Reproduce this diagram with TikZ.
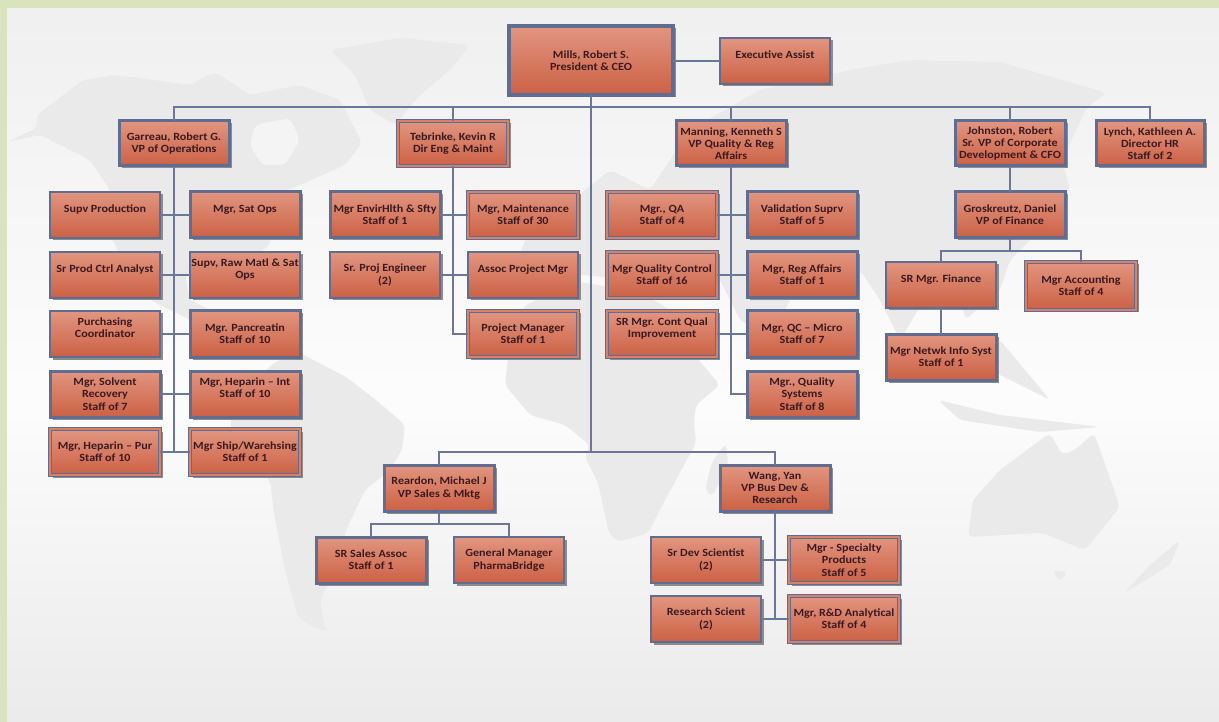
\documentclass[tikz,border=0pt]{standalone}
\usepackage{fontspec}
\setmainfont[FakeStretch=1.1]{Carlito}
\usetikzlibrary{shadows}
\definecolor{frame}{HTML}{5F6D92}
\definecolor{wire}{HTML}{6A7799}
\definecolor{landc}{HTML}{EAEAEA}
\definecolor{ink}{HTML}{3A1A20}
\definecolor{E1}{HTML}{E29580}
\definecolor{E2}{HTML}{CB6145}
\definecolor{E3}{HTML}{D98068}
\definecolor{pagegreen}{HTML}{D9E3BC}
\definecolor{bay}{HTML}{F4F4F4}
\tikzset{
  box/.style={inner sep=0pt,outer sep=0pt,align=center,text=ink,
    font=\fontsize{11}{12.3}\selectfont\bfseries,
    top color=E1,bottom color=E2,
    drop shadow={shadow xshift=2.5pt,shadow yshift=-2.5pt,fill=black!45,opacity=1}},
  thinbox/.style={box,draw=frame,line width=1.3pt},
  thickbox/.style={box,draw=frame,line width=3pt},
  ceobox/.style={box,draw=frame,line width=3.8pt},
  dblbox/.style={box,draw=frame,line width=1.2pt,double=E3,double distance=1.8pt},
  wirel/.style={draw=wire,line width=1.3pt},
  land/.style={fill=landc,draw=none,rounded corners=5pt}
}
\newcommand{\bx}[7]{%
  \pgfmathsetmacro{\cxv}{(#3+#5)/2}\pgfmathsetmacro{\cyv}{(#4+#6)/2}%
  \pgfmathsetmacro{\wv}{#5-#3-2}\pgfmathsetmacro{\hv}{#6-#4-2}%
  \node[#1,minimum width=\wv pt,minimum height=\hv pt] (#2) at (\cxv,\cyv) {#7};}
\begin{document}
\begin{tikzpicture}[x=1pt,y=-1pt]
\useasboundingbox (0,0) rectangle (1219,722);
\fill[pagegreen] (0,0) rectangle (1219,722);
\shade[top color=black!6,bottom color=white!99!black] (7,9) rectangle (1219,400);
\shade[top color=white!99!black,bottom color=black!8] (7,400) rectangle (1219,722);
% world map
\path[land] (7,142)--(37,128)--(37,115)--(83,80)--(117,75)--(190,85)--(215,72)--(250,95)--(300,85)--(340,100)--(362,143)--(345,165)--(300,185)--(275,195)--(270,245)--(240,265)--(222,290)--(205,270)--(185,275)--(190,300)--(230,320)--(290,352)--(285,360)--(240,345)--(190,320)--(150,300)--(125,265)--(108,230)--(110,190)--(90,160)--(40,135)--cycle;
\path[land,fill=bay] (255,125)--(290,118)--(300,140)--(285,165)--(262,165)--(250,145)--cycle;
\path[land] (330,50)--(400,38)--(470,45)--(450,70)--(420,95)--(395,125)--(370,110)--(355,75)--cycle;
\path[land] (230,420)--(250,385)--(275,362)--(300,353)--(346,377)--(376,400)--(405,425)--(402,450)--(390,470)--(365,490)--(346,530)--(335,570)--(320,600)--(325,630)--(335,632)--(315,628)--(298,617)--(285,570)--(274,513)--(270,480)--(235,445)--cycle;
\path[land] (525,305)--(580,282)--(640,292)--(670,310)--(690,350)--(720,385)--(696,405)--(694,420)--(696,443)--(665,500)--(648,533)--(618,542)--(609,533)--(598,483)--(585,457)--(590,445)--(565,425)--(530,415)--(505,385)--(510,340)--cycle;
\path[land] (726,443)--(728,465)--(712,497)--(705,490)--(712,462)--cycle;
\path[land] (510,275)--(530,230)--(560,210)--(610,170)--(650,190)--(690,130)--(760,90)--(850,70)--(910,60)--(1000,62)--(1107,93)--(1087,107)--(1062,160)--(1070,190)--(1040,230)--(1010,260)--(1000,290)--(965,320)--(960,290)--(930,290)--(900,340)--(880,300)--(860,270)--(800,280)--(770,340)--(740,320)--(710,260)--(690,270)--(640,280)--(580,275)--cycle;
\path[land] (973,500)--(1000,470)--(1050,433)--(1062,455)--(1075,450)--(1094,433)--(1120,507)--(1085,550)--(1042,533)--(968,537)--cycle;
\path[land] (1180,540)--(1170,565)--(1124,593)--(1150,565)--cycle;
\path[land] (1052,570)--(1068,572)--(1060,582)--cycle;
\path[land] (938,400)--(1000,415)--(1100,427)--(1040,432)--(960,420)--cycle;
\path[land] (950,345)--(1000,340)--(1050,400)--(1000,375)--cycle;
% boxes
\bx{ceobox}{mills}{508}{25}{674}{96}{Mills, Robert S.\\President \& CEO}
\bx{thinbox}{exec}{719}{37}{831}{85}{Executive Assist\\~}
\bx{thickbox}{garreau}{118}{120}{230}{167}{Garreau, Robert G.\\VP of Operations}
\bx{dblbox}{tebrinke}{397}{120}{509}{167}{Tebrinke, Kevin R\\Dir Eng \& Maint}
\bx{thickbox}{manning}{675}{120}{787}{167}{Manning, Kenneth S\\VP Quality \& Reg\\Affairs}
\bx{thickbox}{johnston}{954}{120}{1066}{167}{Johnston, Robert\\Sr. VP of Corporate\\Development \& CFO}
\bx{thickbox}{lynch}{1095}{120}{1205}{167}{Lynch, Kathleen A.\\Director HR\\Staff of 2}
% operations
\bx{thinbox}{ol1}{49}{191}{161}{239}{Supv Production\\~}
\bx{thickbox}{or1}{189}{191}{301}{239}{Mgr, Sat Ops\\~}
\bx{thinbox}{ol2}{49}{251}{161}{299}{Sr Prod Ctrl Analyst\\~}
\bx{thinbox}{or2}{189}{251}{301}{299}{Supv, Raw Matl \& Sat\\Ops\\~}
\bx{thinbox}{ol3}{49}{310}{161}{358}{Purchasing\\Coordinator\\~}
\bx{thickbox}{or3}{189}{310}{301}{358}{Mgr. Pancreatin\\Staff of 10}
\bx{thickbox}{ol4}{49}{370}{161}{418}{Mgr, Solvent\\Recovery\\Staff of 7}
\bx{thickbox}{or4}{189}{370}{301}{418}{Mgr, Heparin -- Int\\Staff of 10\\~}
\bx{dblbox}{ol5}{49}{428}{161}{476}{Mgr, Heparin -- Pur\\Staff of 10}
\bx{dblbox}{or5}{189}{428}{301}{476}{Mgr Ship/Warehsing\\Staff of 1}
% engineering
\bx{thickbox}{el1}{329}{191}{441}{239}{Mgr EnvirHlth \& Sfty\\Staff of 1}
\bx{dblbox}{er1}{467}{191}{579}{239}{Mgr, Maintenance\\Staff of 30}
\bx{thinbox}{el2}{329}{251}{441}{299}{Sr. Proj Engineer\\(2)}
\bx{thinbox}{er2}{467}{251}{579}{299}{Assoc Project Mgr\\~}
\bx{dblbox}{er3}{467}{310}{579}{358}{Project Manager\\Staff of 1}
% quality
\bx{dblbox}{ql1}{606}{191}{718}{239}{Mgr., QA\\Staff of 4}
\bx{thickbox}{qr1}{746}{191}{858}{239}{Validation Suprv\\Staff of 5}
\bx{dblbox}{ql2}{606}{251}{718}{299}{Mgr Quality Control\\Staff of 16}
\bx{thickbox}{qr2}{746}{251}{858}{299}{Mgr, Reg Affairs\\Staff of 1}
\bx{dblbox}{ql3}{606}{310}{718}{358}{SR Mgr. Cont Qual\\Improvement\\~}
\bx{thickbox}{qr3}{746}{310}{858}{358}{Mgr, QC -- Micro\\Staff of 7}
\bx{thickbox}{qr4}{746}{370}{858}{418}{Mgr., Quality\\Systems\\Staff of 8}
% finance
\bx{thickbox}{gros}{954}{191}{1066}{239}{Groskreutz, Daniel\\VP of Finance}
\bx{thinbox}{srfin}{885}{261}{997}{309}{SR Mgr. Finance\\~}
\bx{dblbox}{acct}{1025}{261}{1137}{311}{Mgr Accounting\\Staff of 4}
\bx{thickbox}{netwk}{885}{333}{997}{381}{Mgr Netwk Info Syst\\Staff of 1}
% sales and research
\bx{thickbox}{reardon}{383}{464}{495}{512}{Reardon, Michael J\\VP Sales \& Mktg}
\bx{thickbox}{wang}{719}{464}{831}{512}{Wang, Yan\\VP Bus Dev \&\\Research}
\bx{thickbox}{srsales}{315}{536}{427}{584}{SR Sales Assoc\\Staff of 1}
\bx{thinbox}{gm}{453}{536}{565}{584}{General Manager\\PharmaBridge}
\bx{thinbox}{wl1}{650}{536}{762}{584}{Sr Dev Scientist\\(2)}
\bx{dblbox}{wr1}{788}{536}{900}{584}{Mgr - Specialty\\Products\\Staff of 5}
\bx{thinbox}{wl2}{650}{595}{762}{643}{Research Scient\\(2)}
\bx{dblbox}{wr2}{788}{595}{900}{643}{Mgr, R\&D Analytical\\Staff of 4}
% connectors
\coordinate (busA) at (mills.south |- 0,107);
\coordinate (busB) at (mills.south |- 0,452);
\coordinate (busC) at (gros.south |- 0,251);
\coordinate (busD) at (reardon.south |- 0,524);
\draw[wirel] (mills.east |- exec.west) -- (exec.west);
\draw[wirel] (mills.south) -- (busB);
\draw[wirel] (garreau.north) |- (busA) -| (lynch.north);
\draw[wirel] (tebrinke.north) -- (tebrinke.north |- busA);
\draw[wirel] (manning.north) -- (manning.north |- busA);
\draw[wirel] (johnston.north) -- (johnston.north |- busA);
\draw[wirel] (reardon.north) |- (busB) -| (wang.north);
% operations
\draw[wirel] (garreau.south) |- (ol5.east);
\draw[wirel] (ol1.east) -- (or1.west);
\draw[wirel] (ol2.east) -- (or2.west);
\draw[wirel] (ol3.east) -- (or3.west);
\draw[wirel] (ol4.east) -- (or4.west);
\draw[wirel] (ol5.east) -- (or5.west);
% engineering
\draw[wirel] (tebrinke.south) |- (er3.west);
\draw[wirel] (el1.east) -- (er1.west);
\draw[wirel] (el2.east) -- (er2.west);
% quality
\draw[wirel] (manning.south) |- (qr4.west);
\draw[wirel] (ql1.east) -- (qr1.west);
\draw[wirel] (ql2.east) -- (qr2.west);
\draw[wirel] (ql3.east) -- (qr3.west);
% finance
\draw[wirel] (johnston.south) -- (gros.north);
\draw[wirel] (gros.south) -- (busC);
\draw[wirel] (srfin.north) |- (busC) -| (acct.north);
\draw[wirel] (srfin.south) -- (netwk.north);
% sales and research
\draw[wirel] (reardon.south) -- (busD);
\draw[wirel] (srsales.north) |- (busD) -| (gm.north);
\draw[wirel] (wang.south) |- (wl2.east);
\draw[wirel] (wl1.east) -- (wr1.west);
\draw[wirel] (wl2.east) -- (wr2.west);
\end{tikzpicture}
\end{document}
